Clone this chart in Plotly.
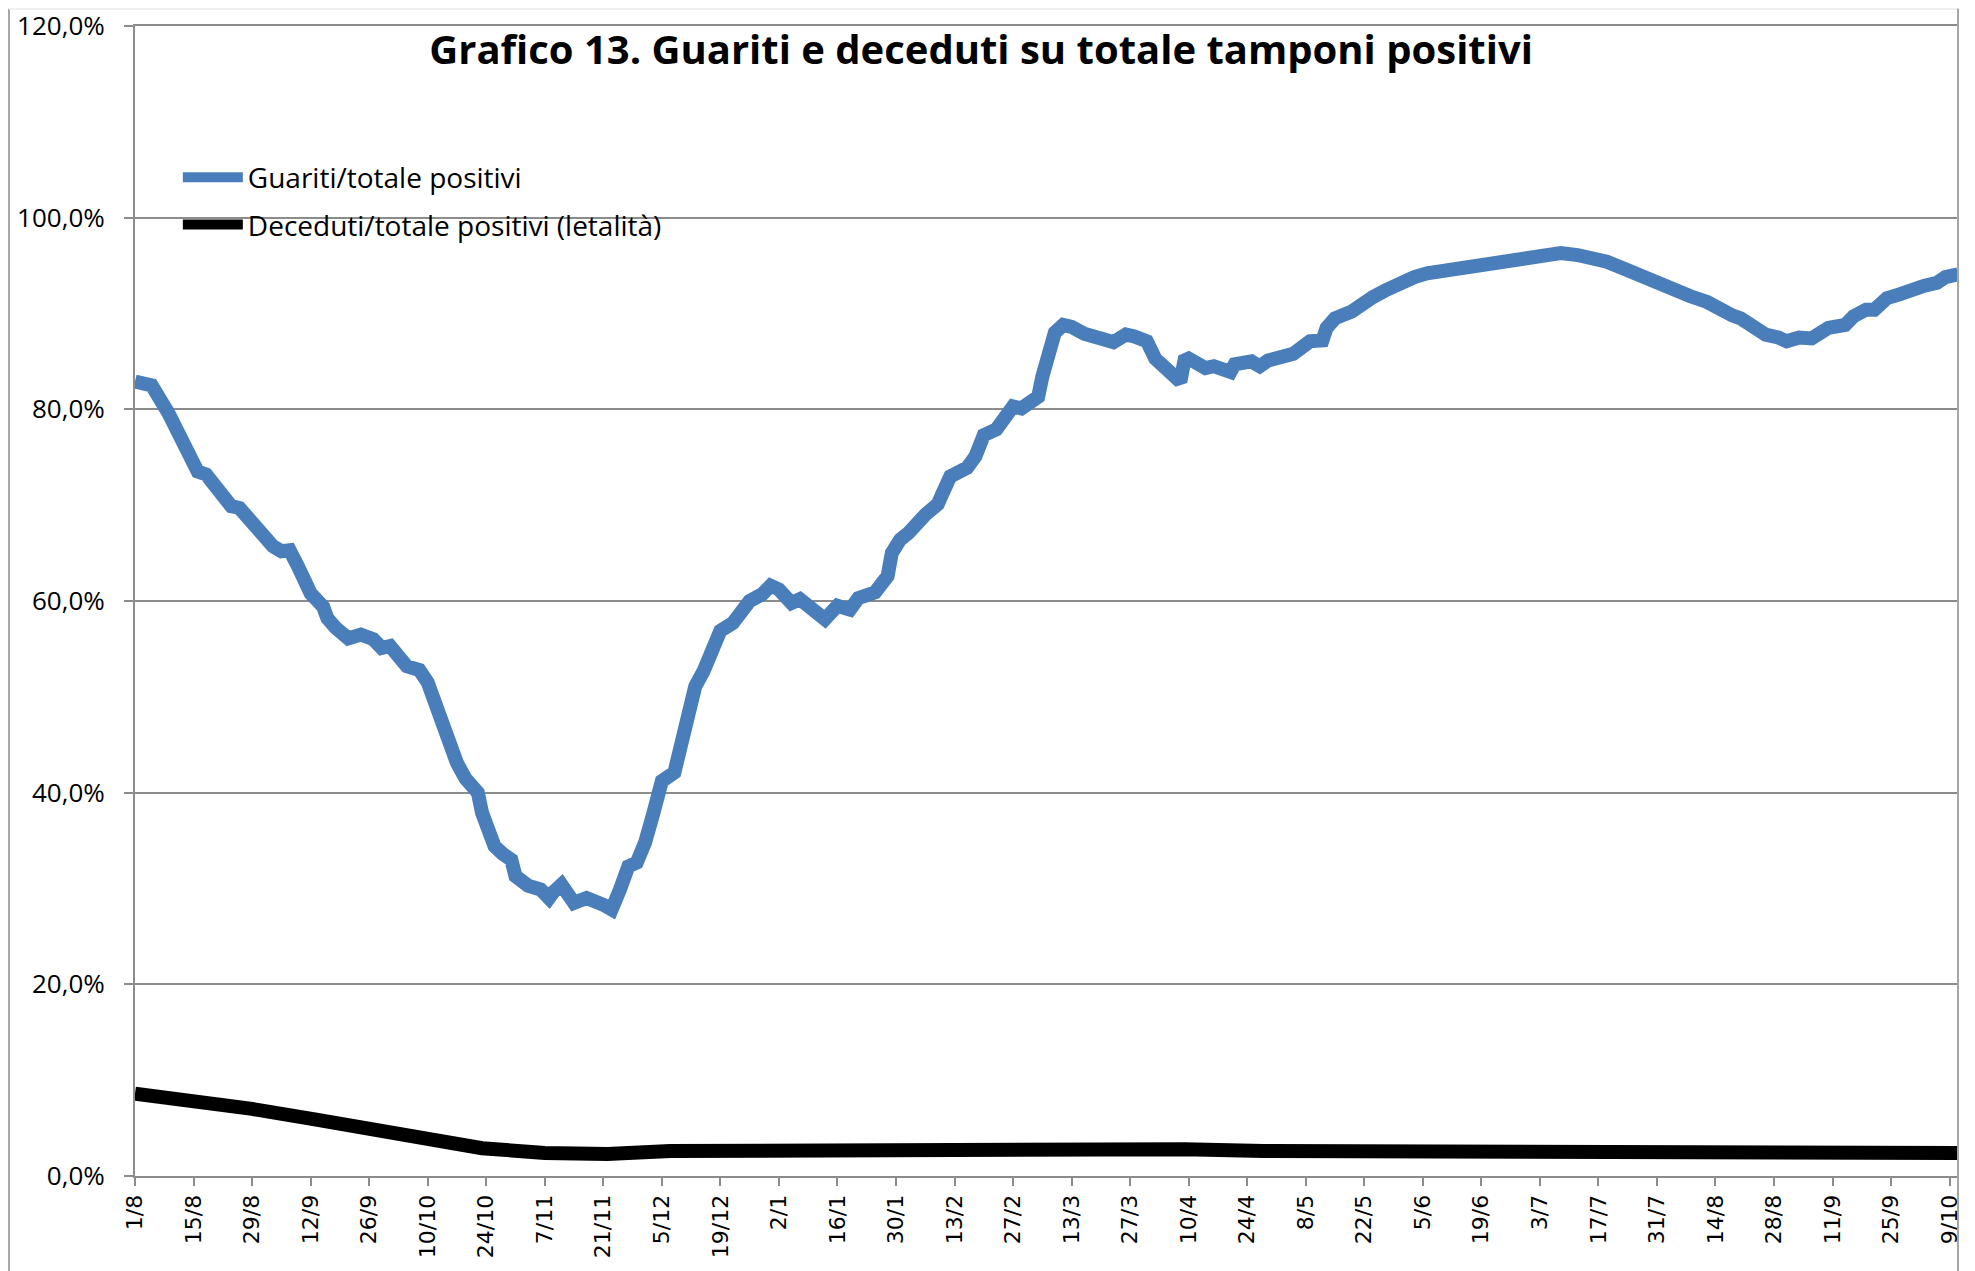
import plotly.graph_objects as go

# days since 1/8/2020 and values (%)
guariti_day = [0, 4, 8, 10, 13, 15, 17, 20, 23, 25, 28, 30, 32, 33, 35, 37, 39, 41, 42, 45,
               46, 48, 51, 54, 57, 59, 61, 65, 68, 70, 72, 73, 75, 77, 79, 80, 82, 83, 85, 86,
               88, 90, 91, 94, 97, 99, 100, 102, 105, 108, 112, 114, 116, 118, 120, 122, 124, 125, 126, 129,
               131, 132, 134, 136, 138, 140, 143, 145, 147, 150, 152, 154, 157, 159, 162, 165, 168, 171, 173, 177,
               180, 181, 183, 185, 189, 192, 193, 195, 199, 201, 203, 206, 208, 210, 212, 216, 217, 218, 220, 222,
               224, 227, 229, 231, 234, 237, 239, 242, 244, 247, 250, 251, 252, 256, 258, 262, 263, 267, 269, 271,
               275, 277, 281, 284, 285, 287, 291, 293, 296, 299, 302, 304, 306, 309, 312, 315, 318, 320, 324, 328,
               332, 336, 341, 345, 348, 352, 356, 359, 362, 365, 369, 372, 376, 379, 382, 384, 387, 390, 393, 395,
               398, 401, 405, 409, 411, 414, 416, 419, 422, 425, 428, 431, 433, 436]
guariti = [82.9, 82.5, 79.6, 77.6, 75.4, 73.5, 73.2, 71.8, 69.9, 69.7, 68.1, 67.3, 66.4, 65.7, 65.2, 65.3, 63.6, 62.0, 60.8, 59.4,
           58.2, 57.2, 56.1, 56.5, 56.0, 55.1, 55.3, 53.2, 52.8, 51.5, 49.0, 47.3, 45.2, 43.1, 41.5, 41.0, 40.0, 37.9, 35.5, 34.4,
           33.6, 33.0, 31.3, 30.3, 29.9, 29.0, 29.6, 30.4, 28.5, 29.0, 28.3, 27.8, 29.9, 32.3, 32.7, 34.8, 37.9, 39.7, 41.2, 42.1,
           45.6, 48.7, 51.1, 52.7, 55.3, 56.9, 57.7, 58.9, 60.0, 60.7, 61.6, 61.2, 59.8, 60.2, 59.3, 58.1, 59.5, 59.1, 60.3, 60.9,
           62.6, 65.0, 66.4, 67.1, 69.0, 70.1, 71.1, 73.0, 73.9, 75.1, 77.3, 77.9, 79.1, 80.3, 80.1, 81.3, 83.4, 85.5, 88.0, 88.8,
           88.6, 87.9, 87.8, 87.4, 87.0, 87.8, 87.6, 87.1, 85.3, 84.1, 82.9, 85.1, 85.3, 84.3, 84.5, 83.9, 84.7, 85.0, 84.5, 85.1,
           85.7, 85.8, 87.1, 87.2, 88.5, 89.5, 90.2, 90.9, 91.7, 92.4, 93.1, 93.3, 93.8, 94.2, 94.4, 94.7, 94.8, 95.2, 95.4, 95.8,
           95.9, 96.2, 96.3, 96.1, 95.9, 95.4, 94.7, 94.1, 93.8, 93.0, 92.5, 91.8, 91.2, 90.4, 89.8, 89.5, 88.5, 87.8, 87.5, 87.1,
           87.5, 87.4, 88.5, 88.8, 89.7, 90.4, 90.4, 91.6, 92.0, 92.6, 92.9, 93.2, 93.8, 94.1]

deceduti_day = [0, 13, 28, 43, 58, 71, 83, 98, 113, 128, 155, 173, 209, 251, 270, 345, 390, 436]
deceduti = [8.6, 7.9, 7.0, 5.9, 4.9, 3.8, 2.9, 2.4, 2.3, 2.6, 2.7, 2.6, 2.9, 2.8, 2.6, 2.6, 2.5, 2.4]

x_labels = ["1/8", "15/8", "29/8", "12/9", "26/9", "10/10", "24/10", "7/11", "21/11", "5/12",
            "19/12", "2/1", "16/1", "30/1", "13/2", "27/2", "13/3", "27/3", "10/4", "24/4",
            "8/5", "22/5", "5/6", "19/6", "3/7", "17/7", "31/7", "14/8", "28/8", "11/9",
            "25/9", "9/10"]
y_ticks = [0, 20, 40, 60, 80, 100, 120]
y_labels = ["0,0%", "20,0%", "40,0%", "60,0%", "80,0%", "100,0%", "120,0%"]

GRID = "#8c8c8c"
FONT = "Open Sans, sans-serif"

fig = go.Figure()
fig.add_trace(go.Scatter(x=guariti_day, y=guariti, mode="lines",
                         name="Guariti/totale positivi", legendgroup="a",
                         line=dict(color="#4a7ebb", width=14)))
fig.add_trace(go.Scatter(x=deceduti_day, y=deceduti, mode="lines",
                         name="Deceduti/totale positivi (letalità)", legendgroup="b",
                         line=dict(color="#000000", width=14)))

# page body adds an 8px offset, so the figure is 8px smaller than the window
fig.update_layout(
    width=1967, height=1263,
    margin=dict(l=127, r=17, t=18, b=95),
    plot_bgcolor="#ffffff", paper_bgcolor="#ffffff",
    title=dict(text="<b>Grafico 13. Guariti e deceduti su totale tamponi positivi</b>",
               x=0.4947, xanchor="center", y=0.9667, yanchor="middle",
               font=dict(family=FONT, size=40, color="#000000")),
    legend=dict(x=0.0235, y=0.890, xanchor="left", yanchor="top",
                traceorder="grouped", tracegroupgap=8, itemwidth=60,
                font=dict(family=FONT, size=28, color="#000000"),
                bgcolor="rgba(0,0,0,0)"),
    showlegend=True,
)
fig.update_xaxes(range=[0, 436], tickvals=list(range(0, 435, 14)), ticktext=x_labels,
                 tickangle=-90, tickfont=dict(family="DejaVu Sans", size=22, color="#000000"),
                 showgrid=False, showline=True, linecolor=GRID, linewidth=2, mirror=True,
                 ticks="outside", ticklen=8, tickcolor=GRID, tickwidth=2, zeroline=False,
                 automargin=False)
fig.update_yaxes(range=[0, 120], tickvals=y_ticks, ticktext=y_labels,
                 tickfont=dict(family=FONT, size=26, color="#000000"),
                 showgrid=True, gridcolor=GRID, gridwidth=2,
                 showline=True, linecolor=GRID, linewidth=2,
                 ticks="outside", ticklen=9, tickcolor=GRID, tickwidth=2,
                 ticklabelstandoff=14, ticklabeloverflow="allow",
                 zeroline=False, automargin=False)

# chart area border (left, top, right)
fig.add_shape(type="line", xref="paper", yref="paper", x0=-0.0691, x1=-0.0691, y0=-0.09, y1=1.015,
              line=dict(color="#a6a6a6", width=2))
fig.add_shape(type="line", xref="paper", yref="paper", x0=-0.0691, x1=1.0, y0=1.0148, y1=1.0148,
              line=dict(color="#efefef", width=2))
fig.add_shape(type="line", xref="paper", yref="paper", x0=1.0, x1=1.0, y0=-0.09, y1=1.015,
              line=dict(color="#a6a6a6", width=2))

fig.write_html("out.html")
